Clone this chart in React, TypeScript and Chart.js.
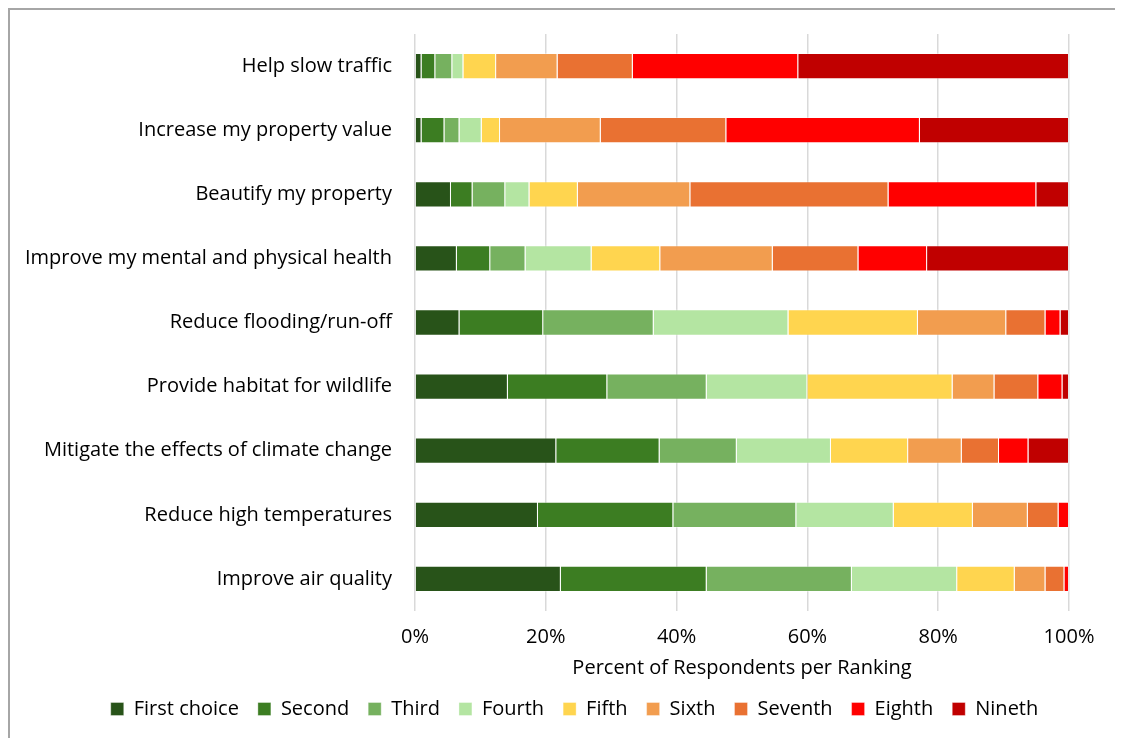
import React, { useEffect, useRef } from "react";
import { Chart, registerables } from "chart.js";

Chart.register(...registerables);

const categories = [
  "Help slow traffic",
  "Increase my property value",
  "Beautify my property",
  "Improve my mental and physical health",
  "Reduce flooding/run-off",
  "Provide habitat for wildlife",
  "Mitigate the effects of climate change",
  "Reduce high temperatures",
  "Improve air quality",
];

const seriesNames = ["First choice", "Second", "Third", "Fourth", "Fifth", "Sixth", "Seventh", "Eighth", "Nineth"];

const firstChoice = [1.0, 1.0, 5.5, 6.4, 6.8, 14.2, 21.6, 18.8, 22.3];
const second = [2.1, 3.5, 3.3, 5.1, 12.8, 15.2, 15.8, 20.7, 22.3];
const third = [2.6, 2.3, 5.0, 5.4, 16.9, 15.2, 11.8, 18.8, 22.2];
const fourth = [1.7, 3.4, 3.7, 10.1, 20.6, 15.4, 14.4, 14.9, 16.1];
const fifth = [5.0, 2.8, 7.4, 10.5, 19.8, 22.2, 11.8, 12.1, 8.8];
const sixth = [9.4, 15.4, 17.2, 17.2, 13.5, 6.4, 8.2, 8.4, 4.7];
const seventh = [11.5, 19.2, 30.3, 13.1, 6.0, 6.7, 5.7, 4.7, 2.9];
const eighth = [25.3, 29.6, 22.6, 10.5, 2.3, 3.7, 4.5, 1.6, 0.7];
const ninth = [41.4, 22.8, 5.0, 21.7, 1.3, 1.0, 6.2, 0, 0];

const seriesValues = [firstChoice, second, third, fourth, fifth, sixth, seventh, eighth, ninth];
const colors = ["#285319", "#3C7D22", "#76B15F", "#B4E5A2", "#FFD54F", "#F29D4F", "#E97132", "#FF0000", "#C00000"];

const xTicks = [0, 20, 40, 60, 80, 100];
const xTitle = "Percent of Respondents per Ranking";

const FONT = "'Open Sans', 'Noto Sans', sans-serif";

const legendShift = {
  id: "legendShift",
  afterLayout(chart: any) {
    if (chart.legend) {
      chart.legend.left += 35;
      chart.legend.right += 35;
    }
  },
};

export default function App() {
  const ref = useRef<HTMLCanvasElement>(null);
  useEffect(() => {
    if (!ref.current) return;
    const chart = new Chart(ref.current, {
      type: "bar",
      data: {
        labels: categories,
        datasets: seriesNames.map((name, i) => ({
          label: name,
          data: seriesValues[i],
          backgroundColor: colors[i],
          borderColor: "rgba(255,255,255,0.35)",
          borderWidth: 1,
          barPercentage: 0.41,
          categoryPercentage: 1,
        })),
      },
      plugins: [legendShift],
      options: {
        indexAxis: "y",
        animation: false,
        responsive: false,
        maintainAspectRatio: false,
        layout: { padding: { top: 24, right: 54, left: 0, bottom: 9 } },
        plugins: {
          tooltip: { enabled: false },
          legend: {
            position: "bottom",
            labels: {
              boxWidth: 13,
              boxHeight: 13,
              padding: 19,
              color: "#000",
              font: { family: FONT, size: 20 },
            },
          },
        },
        scales: {
          x: {
            stacked: true,
            min: 0,
            max: 100,
            afterBuildTicks: (scale: any) => {
              scale.ticks = xTicks.map((v) => ({ value: v }));
            },
            afterFit: (scale: any) => {
              scale.paddingLeft = 0;
              scale.paddingRight = 0;
            },
            ticks: {
              callback: (v: any) => v + "%",
              color: "#000",
              padding: 14,
              font: { family: FONT, size: 20 },
            },
            grid: { color: "#d9d9d9", lineWidth: 1.5, drawTicks: false },
            border: { display: false },
            title: {
              display: true,
              text: xTitle,
              color: "#000",
              padding: { top: -7, bottom: 0 },
              font: { family: FONT, size: 20 },
            },
          },
          y: {
            stacked: true,
            afterFit: (scale: any) => {
              scale.width = 405;
              scale.paddingTop = 0;
              scale.paddingBottom = 0;
            },
            ticks: {
              color: "#000",
              padding: 23,
              font: { family: FONT, size: 20 },
            },
            grid: { display: false, drawTicks: false },
            border: { display: false },
          },
        },
      },
    });
    return () => chart.destroy();
  }, []);

  return (
    <div
      style={{
        width: 1115,
        height: 730,
        boxSizing: "border-box",
        borderTop: "2px solid #a6a6a6",
        borderLeft: "2px solid #a6a6a6",
        background: "#fff",
        overflow: "hidden",
      }}
    >
      <canvas ref={ref} width={1113} height={728} style={{ display: "block" }} />
    </div>
  );
}
